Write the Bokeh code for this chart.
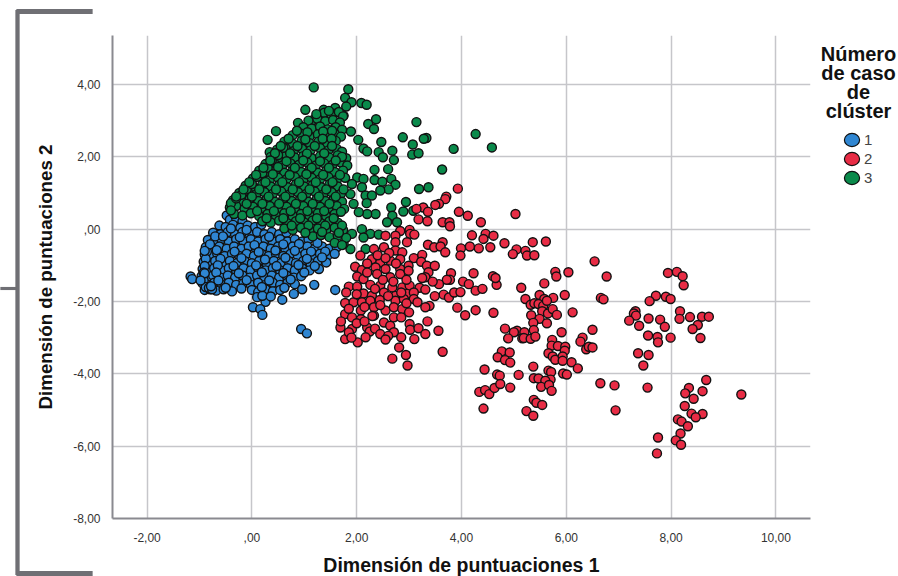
from bokeh.plotting import figure
from bokeh.models import (FixedTicker, Label, Legend, LegendItem)
from bokeh.embed import file_html
from bokeh.resources import INLINE

x_ticks = [-2, 0, 2, 4, 6, 8, 10]
y_ticks = [-8, -6, -4, -2, 0, 2, 4]
x_labels = {-2: "-2,00", 0: ",00", 2: "2,00", 4: "4,00", 6: "6,00", 8: "8,00", 10: "10,00"}
y_labels = {-8: "-8,00", -6: "-6,00", -4: "-4,00", -2: "-2,00", 0: ",00", 2: "2,00", 4: "4,00"}
legend_title = ["Número", "de caso", "de", "clúster"]
cluster_names = ["1", "2", "3"]

blue = [(-0.48,0.38),(-0.42,0.26),(-0.3,0.3),(-0.18,0.22),
(-0.62,0.1),(-0.5,0.06),(-0.36,0.12),(-0.22,0.04),(-0.08,0.1),(0.06,0.06),(0.18,0.12),
(-0.74,-0.1),(-0.6,-0.14),(-0.46,-0.08),(-0.32,-0.14),(-0.18,-0.08),(-0.04,-0.14),(0.1,-0.08),(0.24,-0.14),(0.38,-0.08),(0.52,-0.14),(0.66,-0.1),
(-0.84,-0.3),(-0.72,-0.34),(-0.58,-0.28),(-0.44,-0.34),(-0.3,-0.28),(-0.16,-0.34),(-0.02,-0.28),(0.12,-0.34),(0.26,-0.28),(0.4,-0.34),(0.54,-0.28),(0.68,-0.34),(0.82,-0.28),(0.96,-0.34),(1.08,-0.28),
(-0.88,-0.5),(-0.76,-0.54),(-0.62,-0.48),(-0.48,-0.54),(-0.34,-0.48),(-0.2,-0.54),(-0.06,-0.48),(0.08,-0.54),(0.22,-0.48),(0.36,-0.54),(0.5,-0.48),(0.64,-0.54),(0.78,-0.48),(0.92,-0.54),(1.06,-0.48),(1.2,-0.54),(1.34,-0.48),(1.48,-0.54),(1.62,-0.5),
(-0.9,-0.7),(-0.78,-0.74),(-0.66,-0.68),(-0.52,-0.74),(-0.38,-0.68),(-0.24,-0.74),(-0.1,-0.68),(0.04,-0.74),(0.18,-0.68),(0.32,-0.74),(0.46,-0.68),(0.6,-0.74),(0.74,-0.68),(0.88,-0.74),(1.02,-0.68),(1.16,-0.74),(1.3,-0.68),(1.44,-0.74),(1.58,-0.68),
(-0.92,-0.9),(-0.82,-0.94),(-0.7,-0.88),(-0.56,-0.94),(-0.42,-0.88),(-0.28,-0.94),(-0.14,-0.88),(0.0,-0.94),(0.14,-0.88),(0.28,-0.94),(0.42,-0.88),(0.56,-0.94),(0.7,-0.88),(0.84,-0.94),(0.98,-0.88),(1.12,-0.94),(1.26,-0.88),(1.42,-0.92),
(-0.94,-1.1),(-0.84,-1.14),(-0.72,-1.08),(-0.58,-1.14),(-0.44,-1.08),(-0.3,-1.14),(-0.16,-1.08),(-0.02,-1.14),(0.12,-1.08),(0.26,-1.14),(0.4,-1.08),(0.54,-1.14),(0.68,-1.08),(0.82,-1.14),(0.96,-1.08),(1.1,-1.14),(1.28,-1.1),
(-0.96,-1.3),(-0.86,-1.34),(-0.74,-1.28),(-0.6,-1.34),(-0.46,-1.28),(-0.32,-1.34),(-0.18,-1.28),(-0.04,-1.34),(0.1,-1.28),(0.24,-1.34),(0.38,-1.28),(0.52,-1.34),(0.66,-1.28),(0.8,-1.34),(0.94,-1.3),
(-0.94,-1.5),(-0.84,-1.54),(-0.72,-1.48),(-0.58,-1.54),(-0.44,-1.48),(-0.3,-1.54),(-0.16,-1.5),(-0.02,-1.54),(0.12,-1.48),(0.26,-1.54),(0.4,-1.48),(0.54,-1.54),(0.68,-1.48),(0.82,-1.52),
(-0.9,-1.68),(-0.8,-1.66),(-0.68,-1.7),(-0.54,-1.66),(-0.38,-1.72),(0.0,-1.68),(0.12,-1.74),(0.26,-1.66),(0.4,-1.72),(0.54,-1.68),
(-1.17,-1.31),(-1.14,-1.38),(0.96,-1.66),(1.19,-1.54),(1.59,-1.68),(0.8,-1.79),(0.58,-1.95),(0.26,-2.01),(0.02,-2.16),(0.16,-2.21),(0.2,-2.37),(0.94,-2.76),(1.05,-2.88),(0.1,-1.88),(0.2,-1.84),(0.36,-1.86),
(-0.86,-0.62),(-0.88,-0.82),(-0.9,-1.02),(-0.92,-1.2),(-0.92,-1.42),(-0.88,-1.6),(-0.8,-0.42),(-0.7,-0.2),(-0.82,-1.62),(-0.76,-1.66),
(-0.55,-0.2),(-0.23,-0.22),(0.05,-0.44),(0.33,-0.21),(0.6,-0.42),(0.9,-0.41),(1.25,-0.38),(-0.67,-0.58),(-0.33,-0.62),(0.13,-0.63),(0.45,-0.59),(0.82,-0.6),(1.13,-0.62),(1.4,-0.62),(-0.6,-0.82),(-0.2,-0.8),(0.25,-0.84),(0.64,-0.79),(1.05,-0.82),(1.34,-0.78),(-0.65,-1.0),(-0.35,-1.02),(0.08,-1.0),(0.47,-1.02),(0.89,-0.99),(1.2,-1.02),(-0.68,-1.2),(-0.25,-1.22),(0.19,-1.19),(0.6,-1.21),(1.0,-1.2),(-0.64,-1.42),(-0.1,-1.41),(0.33,-1.42),(0.74,-1.39),(-0.78,-1.58),(-0.5,-1.62),(-0.2,-1.64),(0.19,-1.6),(0.62,-1.62),(-0.9,-1.22),(-0.98,-1.42),(-0.9,-0.6),(-0.4,0.02),(-0.1,-0.02)]
blue_x = [p[0] for p in blue]
blue_y = [p[1] for p in blue]

green = [(1.18,3.92),(1.84,3.87),(1.78,3.63),(1.9,3.51),(2.09,3.49),(2.19,3.44),(1.02,3.3),(1.37,3.3),(1.59,3.35),(1.8,3.39),(1.56,3.19),(1.75,3.14),(0.88,2.94),(1.17,3.02),(1.31,2.96),(1.47,3.05),(2.37,3.04),(2.22,2.91),(2.33,2.77),(3.14,2.96),(0.46,2.71),(0.3,2.47),(2.88,2.54),(3.33,2.52),(3.28,2.5),(4.27,2.63),(4.58,2.26),(3.07,2.34),(2.47,2.41),(2.03,2.47),(1.89,2.7),(2.13,2.23),(2.2,2.15),(2.42,2.13),(2.68,2.17),(2.5,1.99),(2.71,1.91),(3.06,2.06),(3.18,2.1),(3.85,2.22),(0.34,2.13),(3.63,1.65),(2.34,1.64),(2.6,1.66),(2.01,1.43),(2.13,1.39),(2.34,1.36),(2.49,1.31),(2.66,1.39),(2.74,1.23),(2.61,1.1),(1.91,1.25),(2.1,1.16),(2.45,1.07),(3.19,1.11),(3.37,1.16),(2.17,0.93),(2.29,0.93),(1.88,0.97),(2.94,0.75),(2.89,0.49),(2.66,0.6),(2.68,0.37),(3.08,0.51),(2.58,0.19),(2.77,0.19),(2.36,0.42),(2.2,0.42),(2.04,0.47),(2.19,0.72),(1.94,0.7),(2.1,0.0),(2.26,-0.13),(2.42,-0.15),(2.13,-0.23),(1.91,-0.13),(2.17,-0.55),(1.88,-0.55),(1.75,-0.41),
(1.38,3.22),(1.52,3.16),(1.66,3.24),(1.74,3.12),
(1.08,3.0),(1.25,3.05),(1.4,2.98),(1.55,3.02),(1.68,2.95),
(0.98,2.82),(1.14,2.78),(1.3,2.84),(1.45,2.76),(1.6,2.82),(1.72,2.75),
(0.78,2.6),(0.94,2.64),(1.1,2.56),(1.26,2.62),(1.42,2.58),(1.58,2.64),(1.7,2.56),
(0.62,2.42),(0.78,2.36),(0.95,2.44),(1.1,2.38),(1.27,2.42),(1.44,2.36),(1.6,2.44),
(0.48,2.2),(0.64,2.24),(0.8,2.16),(0.96,2.22),(1.12,2.18),(1.3,2.24),(1.46,2.18),(1.62,2.22),(1.72,2.14),
(0.36,2.0),(0.5,1.96),(0.66,2.04),(0.82,1.98),(0.98,2.02),(1.14,1.96),(1.3,2.02),(1.48,1.98),(1.64,2.04),(1.8,1.96),
(0.26,1.8),(0.42,1.84),(0.58,1.76),(0.74,1.82),(0.9,1.78),(1.06,1.84),(1.22,1.76),(1.38,1.82),(1.54,1.78),(1.7,1.84),(1.82,1.76),
(0.14,1.62),(0.3,1.58),(0.46,1.64),(0.62,1.56),(0.78,1.62),(0.94,1.58),(1.1,1.64),(1.26,1.56),(1.42,1.62),(1.58,1.58),(1.74,1.62),
(0.02,1.4),(0.18,1.44),(0.34,1.36),(0.5,1.42),(0.66,1.38),(0.82,1.44),(0.98,1.36),(1.14,1.42),(1.3,1.38),(1.46,1.44),(1.62,1.36),(1.78,1.42),
(-0.12,1.2),(0.04,1.16),(0.2,1.24),(0.36,1.18),(0.52,1.22),(0.68,1.16),(0.84,1.24),(1.0,1.18),(1.16,1.22),(1.32,1.16),(1.48,1.24),(1.64,1.18),
(-0.24,1.0),(-0.08,1.04),(0.08,0.96),(0.24,1.02),(0.4,0.98),(0.56,1.04),(0.72,0.96),(0.88,1.02),(1.04,0.98),(1.2,1.04),(1.36,0.96),(1.52,1.02),(1.7,0.98),
(-0.36,0.8),(-0.2,0.76),(-0.04,0.84),(0.12,0.78),(0.28,0.82),(0.44,0.76),(0.6,0.84),(0.76,0.78),(0.92,0.82),(1.08,0.76),(1.24,0.84),(1.4,0.78),(1.56,0.82),(1.72,0.76),
(-0.42,0.6),(-0.3,0.64),(-0.14,0.56),(0.02,0.62),(0.18,0.58),(0.34,0.64),(0.5,0.56),(0.66,0.62),(0.82,0.58),(0.98,0.64),(1.14,0.56),(1.3,0.62),(1.46,0.58),(1.62,0.64),(1.76,0.56),
(-0.34,0.42),(-0.18,0.38),(-0.02,0.44),(0.14,0.36),(0.3,0.42),(0.46,0.38),(0.62,0.44),(0.78,0.36),(0.94,0.42),(1.1,0.38),(1.26,0.44),(1.42,0.36),(1.58,0.42),
(0.2,0.22),(0.36,0.18),(0.52,0.24),(0.68,0.16),(0.84,0.22),(1.0,0.18),(1.16,0.24),(1.32,0.16),(1.48,0.22),(1.64,0.18),
(0.62,0.02),(0.78,-0.02),(0.94,0.04),(1.1,-0.04),(1.26,0.02),(1.42,-0.02),(1.58,0.04),(1.74,-0.02),
(1.16,-0.2),(1.32,-0.16),(1.48,-0.22),(1.64,-0.18),(1.8,-0.24),(1.58,-0.38),(1.72,-0.44),
(-0.4,0.72),(-0.3,0.85),(-0.2,0.95),(-0.1,1.1),(0.0,1.25),(0.1,1.45),(0.2,1.55),(0.3,1.7),(0.38,1.9),(0.5,2.05),(0.6,2.25),
(1.23,3.18),(1.47,3.27),(0.86,2.72),(1.06,2.68),(1.36,2.7),(1.53,2.72),(0.7,2.5),(1.02,2.48),(1.35,2.5),(1.52,2.5),(0.55,2.3),(0.87,2.3),(1.2,2.3),(1.53,2.3),(0.44,2.1),(0.73,2.1),(1.05,2.09),(1.38,2.1),(1.72,2.0),(0.35,1.9),(0.66,1.88),(0.98,1.9),(1.3,1.88),(1.6,1.9),(0.22,1.7),(0.5,1.72),(0.82,1.7),(1.14,1.7),(1.47,1.7),(0.08,1.5),(0.4,1.52),(0.72,1.5),(1.04,1.52),(1.36,1.5),(1.68,1.5),(-0.05,1.3),(0.26,1.3),(0.58,1.3),(0.9,1.3),(1.22,1.3),(1.54,1.3),(-0.16,1.1),(0.14,1.1),(0.46,1.1),(0.78,1.1),(1.1,1.1),(1.42,1.1),(1.75,1.1),(-0.3,0.9),(0.0,0.9),(0.32,0.9),(0.64,0.9),(0.96,0.9),(1.28,0.9),(1.6,0.9),(-0.4,0.52),(-0.1,0.7),(0.2,0.7),(0.52,0.7),(0.84,0.7),(1.16,0.7),(1.48,0.7),(0.1,0.5),(0.42,0.5),(0.74,0.5),(1.06,0.5),(1.38,0.5),(1.7,0.48),(0.28,0.3),(0.6,0.3),(0.92,0.3),(1.24,0.3),(1.56,0.3),(0.76,0.1),(1.08,0.1),(1.4,0.1),(1.72,0.1),(1.02,-0.1),(1.34,-0.08),(1.66,-0.1)]
green_x = [p[0] for p in green]
green_y = [p[1] for p in green]

red = [(6.54,-0.89),(6.77,-1.31),(7.94,-1.21),(8.11,-1.18),(8.22,-1.3),(8.24,-1.55),(6.04,-1.19),(5.79,-1.18),(5.81,-1.31),(5.58,-1.5),(5.14,-1.62),(4.6,-1.3),(4.67,-1.54),(4.65,-1.35),(4.23,-1.22),(4.27,-1.7),(4.4,-1.65),(5.97,-1.82),(5.49,-1.82),(5.22,-1.93),(5.75,-1.9),(5.58,-1.93),(5.32,-2.09),(5.39,-2.05),(5.47,-2.07),(5.56,-2.12),(5.63,-1.98),(5.54,-2.27),(5.65,-2.33),(5.74,-2.21),(5.82,-2.37),(5.33,-2.38),(5.49,-2.48),(5.37,-2.59),(5.63,-2.6),(6.12,-2.3),(4.27,-2.24),(4.61,-2.31),(6.66,-1.9),(6.71,-1.94),(7.71,-1.84),(7.59,-1.99),(7.9,-1.87),(7.99,-1.93),(7.32,-2.27),(7.29,-2.33),(7.33,-2.39),(7.2,-2.53),(7.39,-2.67),(7.57,-2.47),(7.79,-2.5),(7.88,-2.7),(8.17,-2.27),(8.16,-2.48),(8.36,-2.43),(8.59,-2.42),(8.72,-2.42),(8.51,-2.65),(8.41,-2.76),(8.56,-3.01),(7.56,-2.94),(7.74,-2.98),(7.75,-3.13),(7.99,-3.0),(6.5,-2.78),(5.91,-2.85),(4.83,-2.75),(5.06,-2.81),(5.0,-2.85),(5.2,-2.85),(5.38,-2.79),(4.89,-3.02),(5.16,-3.02),(5.19,-3.01),(5.32,-3.03),(5.41,-2.97),(5.73,-3.06),(6.31,-3.0),(6.27,-3.11),(6.38,-3.32),(6.43,-3.25),(6.5,-3.27),(5.72,-3.22),(5.84,-3.23),(5.98,-3.25),(5.97,-3.36),(5.66,-3.43),(5.74,-3.52),(5.79,-3.61),(5.93,-3.52),(5.93,-3.64),(6.1,-3.68),(6.22,-3.85),(4.77,-3.38),(4.92,-3.41),(4.69,-3.54),(4.83,-3.62),(4.93,-3.69),(4.44,-3.88),(4.68,-4.02),(4.73,-4.05),(5.09,-4.03),(5.37,-3.8),(5.66,-3.91),(5.71,-3.95),(5.94,-3.99),(6.01,-4.02),(7.37,-3.43),(7.57,-3.48),(7.47,-3.77),(5.38,-4.12),(5.47,-4.13),(5.7,-4.16),(5.6,-4.19),(5.52,-4.36),(5.67,-4.31),(5.72,-4.47),(4.34,-4.5),(4.45,-4.45),(4.53,-4.56),(4.63,-4.39),(4.74,-4.28),(4.93,-4.38),(6.65,-4.26),(6.92,-4.32),(7.55,-4.38),(8.67,-4.17),(8.34,-4.39),(8.27,-4.54),(8.6,-4.48),(8.43,-4.69),(9.34,-4.57),(8.26,-4.89),(5.38,-4.72),(5.43,-4.8),(5.54,-4.86),(4.42,-4.96),(5.24,-5.03),(5.37,-5.16),(6.94,-5.01),(8.39,-5.1),(8.6,-5.11),(8.47,-5.2),(8.13,-5.26),(8.2,-5.32),(8.32,-5.45),(8.18,-5.65),(7.75,-5.76),(8.09,-5.84),(8.19,-5.96),(7.73,-6.2),
(4.33,-0.53),(4.55,-0.5),(4.82,-0.39),(5.05,-0.56),(5.22,-0.6),(4.98,-0.69),(5.25,-0.73),(5.39,-0.72),(5.36,-0.36),(5.61,-0.34),
(3.93,1.12),(3.71,0.9),(3.69,0.83),(3.57,0.7),(3.5,0.67),(3.27,0.6),(3.14,0.56),(3.36,0.48),(3.95,0.48),(4.12,0.37),(5.03,0.42),(3.18,0.27),(3.35,0.22),(3.64,0.19),(3.77,0.19),(3.78,0.08),(4.37,0.19),(2.83,-0.05),(3.01,-0.02),(3.02,-0.13),(3.1,-0.15),(2.55,-0.18),(2.74,-0.18),(2.74,-0.36),(2.96,-0.36),(4.2,-0.17),(4.46,-0.13),(4.42,-0.27),(4.61,-0.18),(3.36,-0.43),(3.48,-0.5),(3.64,-0.36),(3.6,-0.48),(3.69,-0.64),(3.99,-0.53),(4.16,-0.48),(3.98,-0.73),(2.33,-0.55),(2.52,-0.5),(2.74,-0.59),(2.87,-0.64),(3.09,-0.8),(3.25,-0.71),(3.23,-0.9),(3.34,-1.01),(3.49,-1.01),(3.37,-1.19),(3.31,-1.33),(3.25,-1.35),(2.07,-0.73),(2.29,-0.83),(2.45,-0.92),(2.64,-0.87),(2.83,-0.83),(2.99,-1.01),(1.97,-1.04),(2.1,-1.13),(2.36,-1.06),(2.55,-1.1),(2.83,-1.1),(2.01,-1.31),(2.13,-1.38),(2.39,-1.24),(2.64,-1.33),(2.83,-1.24),(2.99,-1.15),(3.8,-1.22),(3.78,-1.4),(3.72,-1.4),(3.57,-1.52),(4.03,-1.45),(4.14,-1.52),(1.85,-1.59),(2.01,-1.59),(2.26,-1.54),(2.45,-1.56),(2.68,-1.61),(2.87,-1.61),(3.01,-1.56),(3.2,-1.62),(3.31,-1.67),(2.13,-1.78),(2.29,-1.84),(2.52,-1.75),(2.74,-1.84),(2.96,-1.79),(3.09,-1.75),(3.66,-1.81),(3.49,-1.85),(3.76,-1.89),(3.86,-1.75),(3.98,-1.74),(1.78,-2.04),(1.94,-2.02),(2.1,-2.02),(2.26,-1.98),(2.44,-1.96),(2.74,-1.98),(2.9,-1.93),(3.09,-1.93),(3.16,-2.02),(1.78,-2.35),(1.91,-2.44),(2.08,-2.25),(2.33,-2.16),(2.55,-2.25),(2.71,-2.16),(2.87,-2.21),(3.39,-2.12),(3.31,-2.16),(3.92,-2.17),(4.07,-2.38),(2.08,-2.49),(2.33,-2.39),(2.52,-2.58),(2.71,-2.44),(2.85,-2.44),(1.69,-2.72),(1.91,-2.76),(2.64,-2.67),(2.71,-2.85),(3.01,-2.62),(3.02,-2.78),(3.18,-2.74),(3.35,-2.55),(3.56,-2.81),(3.31,-2.9),(2.2,-2.72),(2.25,-2.83),(1.78,-3.04),(2.02,-3.13),(2.17,-2.99),(2.85,-2.99),(3.1,-3.04),(2.81,-3.27),(3.64,-3.39),(2.94,-3.48),(2.68,-3.58),(2.97,-3.77),
(2.2,-0.95),(2.4,-0.72),(2.62,-0.66),(2.55,-0.8),(2.75,-0.95),(2.2,-1.2),(2.5,-1.4),(2.7,-1.45),(2.95,-1.4),(2.35,-1.65),(2.6,-1.85),(2.85,-1.75),(2.15,-2.15),(2.45,-2.1),(2.0,-2.6),(2.15,-2.55),(1.85,-2.85),(2.35,-2.75),(2.45,-2.9),(2.6,-2.95),(1.7,-2.55),(1.85,-2.2),(2.0,-1.8),(1.8,-1.75),(3.0,-2.3),(2.95,-2.05),(2.55,-3.05),(1.9,-3.0),(2.3,-2.4),(3.45,-1.45)]
red_x = [p[0] for p in red]
red_y = [p[1] for p in red]

BLUE, RED, GREEN = "#2f86d2", "#e82c45", "#0a8a4b"

p = figure(width=898, height=576, output_backend="svg", toolbar_location=None,
           x_range=(-2.66, 10.66), y_range=(-8, 5.355),
           frame_width=698, frame_height=483,
           min_border_left=112, min_border_top=35, min_border_right=88, min_border_bottom=58)
p.outline_line_color = None
p.background_fill_color = "white"

for ax, ticks, labels in ((p.xaxis[0], x_ticks, x_labels), (p.yaxis[0], y_ticks, y_labels)):
    ax.ticker = FixedTicker(ticks=ticks)
    ax.major_label_overrides = labels
    ax.major_tick_line_color = None
    ax.minor_tick_line_color = None
    ax.axis_line_color = "#8a8a90"
    ax.axis_line_width = 2
    ax.major_label_text_font = "Liberation Sans"
    ax.major_label_text_font_size = "12px"
    ax.major_label_text_color = "#333333"
    ax.axis_label_text_font = "Liberation Sans"
    ax.axis_label_text_font_style = "bold"
    ax.axis_label_text_color = "#111111"
p.xaxis[0].axis_label = "Dimensión de puntuaciones 1"
p.xaxis[0].axis_label_text_font_size = "19.5px"
p.xaxis[0].axis_label_standoff = 9
p.xaxis[0].major_label_standoff = 8
p.yaxis[0].axis_label = "Dimensión de puntuaciones 2"
p.yaxis[0].axis_label_text_font_size = "18.7px"
p.yaxis[0].axis_label_standoff = 14
p.yaxis[0].major_label_standoff = 6

for g in (p.xgrid[0], p.ygrid[0]):
    g.grid_line_color = "#c6c6ca"
    g.grid_line_width = 1.5

marker = dict(size=9, line_color="#111111", line_width=1.4)
p.scatter(blue_x, blue_y, fill_color=BLUE, **marker)
p.scatter(green_x, green_y, fill_color=GREEN, **marker)
p.scatter(red_x, red_y, fill_color=RED, **marker)

keys = []
for name, col in zip(cluster_names, (BLUE, RED, GREEN)):
    r = p.ellipse(x=[0], y=[-20], width=15, height=13, width_units="screen", height_units="screen",
                  fill_color=col, line_color="#111111", line_width=1.2)
    keys.append(LegendItem(label=name, renderers=[r]))
legend = Legend(items=keys, location=(32, 331), border_line_color=None,
                background_fill_alpha=0, spacing=0, padding=0, margin=0,
                glyph_width=19, glyph_height=19, label_height=19, label_standoff=3,
                label_text_font="Liberation Sans", label_text_font_size="15px",
                label_text_color="#444444")
p.add_layout(legend, "right")

for i, line in enumerate(legend_title):
    p.add_layout(Label(x=858, y=53 + 19 * i, x_units="canvas", y_units="canvas",
                       text=line, text_align="center", text_baseline="middle",
                       text_font="Liberation Sans", text_font_style="bold",
                       text_font_size="20px", text_color="#111111"), "right")

# Grey bracket outside the plot frame: filled label boxes (only annotations
# sitting in a side panel escape the frame clip)
BR = "#6f6f74"
for cx, cy, half_h, half_w in ((17, 292, 282, 2), (54, 11, 2, 38), (54, 573, 2, 38), (8, 288, 1, 8)):
    p.add_layout(Label(x=cx, y=cy, x_units="canvas", y_units="canvas", text="\u00a0",
                       text_align="center", text_baseline="middle", text_font_size="1px",
                       padding=(half_w, half_h), background_fill_color=BR, background_fill_alpha=1,
                       text_color=BR), "right")

open("out.html", "w").write(file_html(p, INLINE))
